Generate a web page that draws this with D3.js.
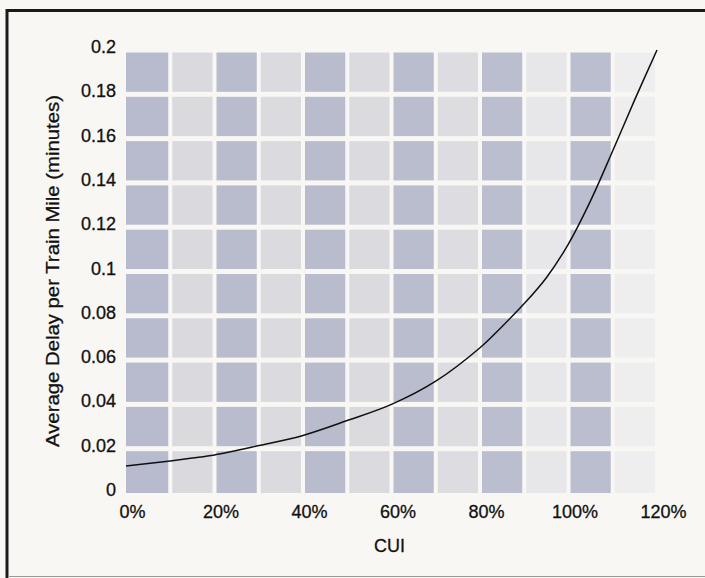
<!DOCTYPE html>
<html>
<head>
<meta charset="utf-8">
<script src="https://cdn.jsdelivr.net/npm/d3@7"></script>
<style>
  body { margin: 0; background: #f9f7f4; }
  svg { display: block; font-family: "Liberation Sans", Arial, sans-serif; }
</style>
</head>
<body>
<div id="chart"></div>
<script>
// CUI (%) and average delay per train mile (minutes)
const cui = [0, 5, 10, 15, 20, 30, 40, 50, 60, 70, 80, 85, 90, 95, 100, 105, 110, 115, 120];
const delay = [0.0122, 0.0133, 0.0145, 0.0158, 0.0172, 0.0214, 0.026, 0.0327, 0.0400, 0.0505, 0.0656, 0.0752, 0.0855, 0.0972, 0.1125, 0.132, 0.1545, 0.1777, 0.2];

const xTicks = [0, 20, 40, 60, 80, 100, 120];
const xTickLabels = ["0%", "20%", "40%", "60%", "80%", "100%", "120%"];
const yTicks = [0, 0.02, 0.04, 0.06, 0.08, 0.1, 0.12, 0.14, 0.16, 0.18, 0.2];
const yTickLabels = ["0", "0.02", "0.04", "0.06", "0.08", "0.1", "0.12", "0.14", "0.16", "0.18", "0.2"];

const xTitle = "CUI";
const yTitle = "Average Delay per Train Mile (minutes)";

function drawChart(selector = "#chart") {
    const width = 705;
    const height = 578;
    const margin = { top: 50, right: 48, bottom: 85, left: 126 };

    const svg = d3.select(selector)
        .html("")
        .append("svg")
        .attr("width", width)
        .attr("height", height);

    svg.append("rect")
        .attr("width", width)
        .attr("height", height)
        .attr("fill", "#f9f7f4");

    const x = d3.scaleLinear()
        .domain([0, 120])
        .range([margin.left, width - margin.right]);

    const y = d3.scaleLinear()
        .domain([0, 0.2])
        .range([height - margin.bottom, margin.top]);

    // checkered background: 10% columns, 0.02 rows, white gaps between cells
    const colSteps = d3.range(0, 120, 10);
    const rowSteps = d3.range(0, 10).map(i => i * 0.02);
    const colFill = ["#b7bbcd", "#d9d9de", "#b8bccd", "#dadadf", "#b8bccd", "#dbdbdf",
                     "#b9bdce", "#dddde1", "#babecf", "#e7e7ea", "#babecf", "#efeeef"];

    const cells = [];
    colSteps.forEach((c, i) => rowSteps.forEach(r => cells.push({ c, r, i })));

    svg.append("g")
        .selectAll("rect")
        .data(cells)
        .join("rect")
        .attr("x", d => x(d.c) + (d.i === 0 ? 0 : 2))
        .attr("width", d => x(d.c + 10) - x(d.c) - (d.i === 0 ? 2 : 4))
        .attr("y", d => y(d.r + 0.02) + 2.5)
        .attr("height", d => y(d.r) - y(d.r + 0.02) - (d.r === 0 ? 2.5 : 5))
        .attr("fill", d => colFill[d.i]);

    // axes
    const yAxis = svg.append("g")
        .attr("transform", `translate(${margin.left},0)`)
        .call(d3.axisLeft(y)
            .tickValues(yTicks)
            .tickSize(0)
            .tickPadding(10)
            .tickFormat((d, i) => yTickLabels[i]));
    yAxis.select(".domain").remove();
    yAxis.selectAll("text")
        .attr("dy", "0.14em")
        .style("font-size", "18px")
        .style("fill", "#111")
        .style("stroke", "#111")
        .style("stroke-width", 0.3);

    const xAxis = svg.append("g")
        .attr("transform", `translate(0,${height - margin.bottom})`)
        .call(d3.axisBottom(x)
            .tickValues(xTicks)
            .tickSize(0)
            .tickPadding(12)
            .tickFormat((d, i) => xTickLabels[i]));
    xAxis.select(".domain").remove();
    xAxis.selectAll("text")
        .attr("dx", 6)
        .style("font-size", "18px")
        .style("fill", "#111")
        .style("stroke", "#111")
        .style("stroke-width", 0.3);

    svg.append("text")
        .attr("x", (x(0) + x(120)) / 2 - 2)
        .attr("y", 552)
        .attr("text-anchor", "middle")
        .style("font-size", "18px")
        .style("fill", "#111")
        .style("stroke", "#111")
        .style("stroke-width", 0.3)
        .text(xTitle);

    svg.append("text")
        .attr("transform", "translate(59,271) rotate(-90)")
        .attr("text-anchor", "middle")
        .attr("textLength", 352)
        .attr("lengthAdjust", "spacingAndGlyphs")
        .style("font-size", "18px")
        .style("fill", "#111")
        .style("stroke", "#111")
        .style("stroke-width", 0.3)
        .text(yTitle);

    // the curve
    const points = cui.map((c, i) => ({ c, v: delay[i] }));
    const line = d3.line()
        .x(d => x(d.c))
        .y(d => y(d.v))
        .curve(d3.curveCatmullRom);

    svg.append("path")
        .datum(points)
        .attr("d", line)
        .attr("fill", "none")
        .attr("stroke", "#111")
        .attr("stroke-width", 1.5);

    // frame of the scanned figure
    svg.append("line")
        .attr("x1", 7).attr("x2", 7)
        .attr("y1", 9).attr("y2", height)
        .attr("stroke", "#1a1a1a")
        .attr("stroke-width", 3);

    svg.append("line")
        .attr("x1", 6).attr("x2", width)
        .attr("y1", 10.5).attr("y2", 10.5)
        .attr("stroke", "#1a1a1a")
        .attr("stroke-width", 3);

    svg.append("line")
        .attr("x1", 8).attr("x2", width)
        .attr("y1", 576.5).attr("y2", 576.5)
        .attr("stroke", "#9a9a9a")
        .attr("stroke-width", 1);
}

drawChart();
</script>
</body>
</html>
